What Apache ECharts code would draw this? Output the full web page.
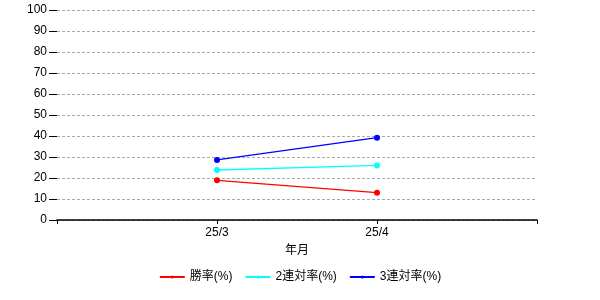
<!DOCTYPE html>
<html><head><meta charset="utf-8">
<script src="https://cdn.jsdelivr.net/npm/echarts@6/dist/echarts.min.js"></script>
<style>html,body{margin:0;padding:0;background:#fff}#c{width:600px;height:300px}</style>
</head><body><div id="c"></div>
<script>
const categories = ['', '25/3', '25/4', ''];
const winRate = [null, 18.9, 13.0, null];
const top2Rate = [null, 23.8, 26.0, null];
const top3Rate = [null, 28.6, 39.2, null];
const yTicks = [0, 10, 20, 30, 40, 50, 60, 70, 80, 90, 100];
const seriesNames = ['勝率(%)', '2連対率(%)', '3連対率(%)'];
const colors = ['#ff0000', '#00ffff', '#0000ff'];

const font = "Arial, 'Liberation Sans', 'Noto Sans CJK JP', sans-serif";
const chart = echarts.init(document.getElementById('c'), null, {renderer: 'canvas'});
const mk = (name, data, color) => ({
  name, type: 'line', data, connectNulls: false,
  symbol: 'circle', symbolSize: 6, showSymbol: true,
  lineStyle: {color, width: 1.3}, itemStyle: {color},
  animation: false
});
chart.setOption({
  animation: false,
  textStyle: {fontFamily: font},
  grid: {left: 57, right: 63, top: 10, bottom: 80, containLabel: false},
  legend: {
    data: seriesNames, bottom: 12, left: 'center', itemGap: 12,
    itemWidth: 25, itemHeight: 4,
    textStyle: {fontSize: 12, color: '#000', fontFamily: font}
  },
  xAxis: {
    type: 'category', data: categories, boundaryGap: false,
    name: '年月', nameLocation: 'middle', nameGap: 25,
    nameTextStyle: {fontSize: 12, color: '#000', fontFamily: font},
    axisLine: {lineStyle: {color: '#000', width: 1.5}},
    axisTick: {show: true, length: 4, lineStyle: {color: '#000'}, alignWithLabel: true},
    axisLabel: {color: '#000', fontSize: 12, margin: 7, interval: 0, fontFamily: font},
    splitLine: {show: false}
  },
  yAxis: {
    type: 'value', min: yTicks[0], max: yTicks[yTicks.length - 1], interval: 10,
    axisLine: {show: false},
    axisTick: {show: true, length: 8, lineStyle: {color: '#000'}},
    axisLabel: {color: '#000', fontSize: 12, margin: 10, fontFamily: font},
    splitLine: {show: true, lineStyle: {color: '#aaaaaa', type: [3, 2], width: 1}}
  },
  series: [
    mk(seriesNames[0], winRate, colors[0]),
    mk(seriesNames[1], top2Rate, colors[1]),
    mk(seriesNames[2], top3Rate, colors[2])
  ]
});
</script></body></html>
